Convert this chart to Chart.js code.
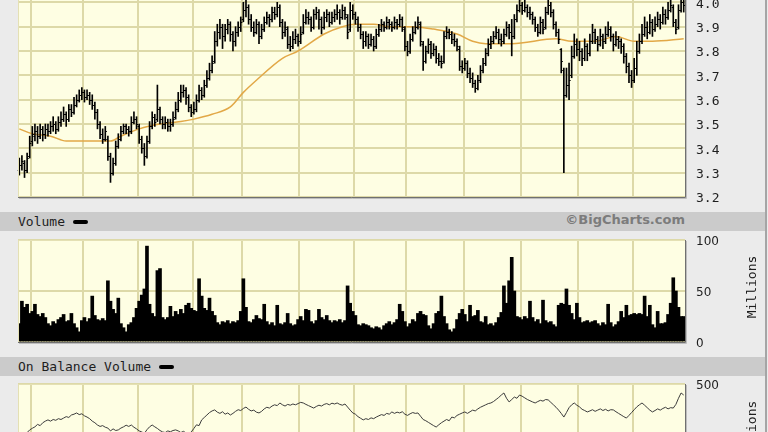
<!DOCTYPE html>
<html>
<head>
<meta charset="utf-8">
<title>Price, Volume, On Balance Volume</title>
<script src="https://cdn.jsdelivr.net/npm/chart.js@4.4.1/dist/chart.umd.min.js"></script>
<style>
  html, body { margin: 0; padding: 0; }
  body { width: 768px; height: 432px; overflow: hidden; position: relative; background: #ebebeb; }
  .pane { position: absolute; left: 0; width: 768px; }
  .band { position: absolute; left: 0; width: 766px; height: 19px; background: #cbcbcb;
          font: 13px "DejaVu Sans Mono", monospace; color: #1e1e1e; line-height: 19px; }
  .band .name { position: absolute; left: 18px; top: 0; white-space: nowrap; }
  .band .key { display: inline-block; width: 15px; height: 4px; background: #000; border-radius: 2px;
               margin-left: 8px; vertical-align: middle; position: relative; top: -1px; }
  .band .credit { position: absolute; right: 81px; top: 0; font: bold 13px "DejaVu Sans", sans-serif; color: #7c7c7c; }
  .unit { position: absolute; width: 80px; height: 16px; line-height: 16px; text-align: center;
          font: 13px "DejaVu Sans Mono", monospace; color: #1e1e1e; transform: rotate(-90deg); }
  .edge { position: absolute; left: 765px; top: 0; width: 2px; height: 432px; background: #a5a5a5; }
</style>
</head>
<body>

<div class="pane" style="top:-32px;height:239px"><canvas id="priceChart" width="768" height="239"></canvas></div>

<div class="band" style="top:212px">
  <span class="name">Volume<span class="key"></span></span>
  <span class="credit">&copy;BigCharts.com</span>
</div>
<div class="pane" style="top:230px;height:122px"><canvas id="volumeChart" width="768" height="122"></canvas></div>
<div class="unit" style="left:712px;top:279px">Millions</div>

<div class="band" style="top:357px">
  <span class="name">On Balance Volume<span class="key"></span></span>
</div>
<div class="pane" style="top:374px;height:122px"><canvas id="obvChart" width="768" height="122"></canvas></div>
<div class="unit" style="left:712px;top:424px">Millions</div>

<div class="edge"></div>

<script>
// first trading day of each month (bar index)
var month_starts = [5, 25, 46, 67, 86, 108, 129, 149, 171, 193, 215, 236];

var opens = [
  3.31,3.33,3.34,3.31,3.37,3.43,3.45,3.47,3.45,3.48, 3.46,3.48,3.47,3.49,3.50,3.48,3.51,3.52,3.54,3.52,
  3.56,3.55,3.58,3.60,3.62,3.63,3.61,3.62,3.60,3.58, 3.55,3.50,3.46,3.44,3.44,3.37,3.30,3.34,3.41,3.44,
  3.47,3.49,3.48,3.47,3.51,3.52,3.49,3.44,3.40,3.37, 3.43,3.49,3.53,3.52,3.56,3.52,3.50,3.51,3.49,3.50,
  3.53,3.56,3.60,3.63,3.64,3.61,3.57,3.55,3.56,3.60, 3.64,3.62,3.66,3.69,3.72,3.76,3.84,3.88,3.90,3.86,
  3.89,3.91,3.87,3.84,3.88,3.90,3.93,3.97,3.98,3.93, 3.90,3.88,3.91,3.86,3.89,3.92,3.94,3.93,3.96,3.95,
  3.98,3.92,3.88,3.89,3.83,3.82,3.85,3.86,3.84,3.88, 3.92,3.94,3.93,3.90,3.95,3.96,3.93,3.90,3.94,3.95,
  3.92,3.94,3.95,3.96,3.94,3.97,3.94,3.89,3.97,3.95, 3.93,3.90,3.87,3.84,3.86,3.83,3.85,3.82,3.87,3.89,
  3.91,3.90,3.92,3.91,3.90,3.92,3.91,3.93,3.89,3.82, 3.80,3.85,3.88,3.90,3.91,3.83,3.76,3.80,3.83,3.79,
  3.81,3.77,3.76,3.76,3.86,3.88,3.87,3.85,3.84,3.81, 3.74,3.73,3.75,3.71,3.69,3.67,3.65,3.68,3.72,3.75,
  3.79,3.83,3.84,3.86,3.88,3.85,3.84,3.87,3.90,3.88, 3.86,3.93,3.97,3.99,3.97,3.98,3.96,3.95,3.93,3.90,
  3.88,3.92,3.90,3.96,3.99,3.96,3.91,3.88,3.81,3.72, 3.62,3.66,3.70,3.78,3.83,3.81,3.80,3.77,3.82,3.79,
  3.84,3.88,3.85,3.83,3.86,3.84,3.87,3.89,3.86,3.83, 3.85,3.84,3.82,3.78,3.74,3.70,3.68,3.73,3.80,3.84,
  3.87,3.90,3.88,3.92,3.89,3.91,3.93,3.92,3.95,3.94, 3.97,3.98,3.92,3.90,3.97,4.00
];
var highs = [
  3.36,3.37,3.35,3.38,3.45,3.49,3.50,3.49,3.50,3.49, 3.50,3.50,3.51,3.53,3.51,3.53,3.55,3.57,3.55,3.58,
  3.58,3.61,3.62,3.64,3.65,3.64,3.64,3.63,3.62,3.59, 3.56,3.51,3.48,3.49,3.45,3.38,3.36,3.43,3.46,3.49,
  3.50,3.50,3.49,3.53,3.55,3.53,3.50,3.45,3.42,3.45, 3.51,3.55,3.54,3.66,3.57,3.53,3.53,3.52,3.52,3.55,
  3.59,3.63,3.66,3.66,3.65,3.62,3.58,3.59,3.62,3.66, 3.65,3.68,3.72,3.75,3.78,3.88,3.91,3.93,3.91,3.91,
  3.93,3.92,3.88,3.90,3.92,3.94,4.00,4.02,3.99,3.95, 3.92,3.93,3.92,3.91,3.94,3.96,3.95,3.98,3.98,4.00,
  3.99,3.93,3.92,3.90,3.86,3.88,3.89,3.87,3.90,3.95, 3.97,3.96,3.94,3.97,3.98,3.97,3.94,3.96,3.97,3.96,
  3.96,3.97,3.99,3.97,3.99,3.98,3.95,4.00,3.99,3.96, 3.94,3.91,3.88,3.88,3.87,3.87,3.86,3.89,3.91,3.93,
  3.92,3.94,3.93,3.92,3.94,3.93,3.95,3.94,3.90,3.84, 3.87,3.90,3.92,3.94,3.92,3.84,3.82,3.85,3.84,3.83,
  3.82,3.79,3.78,3.88,3.90,3.89,3.88,3.87,3.85,3.82, 3.76,3.77,3.76,3.73,3.71,3.68,3.70,3.74,3.77,3.81,
  3.85,3.86,3.88,3.90,3.89,3.87,3.89,3.92,3.91,3.93, 3.95,3.99,4.01,4.00,4.01,3.99,3.98,3.96,3.94,3.91,
  3.94,3.93,3.98,4.01,4.00,3.97,3.92,3.89,3.81,3.73, 3.73,3.75,3.82,3.87,3.85,3.84,3.81,3.85,3.83,3.87,
  3.91,3.89,3.86,3.89,3.87,3.90,3.92,3.90,3.87,3.88, 3.86,3.85,3.83,3.79,3.75,3.72,3.77,3.84,3.87,3.91,
  3.94,3.92,3.95,3.93,3.94,3.96,3.95,3.98,3.97,4.00, 4.02,3.99,3.93,3.99,4.03,4.02
];
var lows = [
  3.29,3.31,3.28,3.30,3.36,3.41,3.43,3.42,3.44,3.43, 3.44,3.45,3.46,3.47,3.46,3.47,3.49,3.51,3.49,3.51,
  3.53,3.54,3.57,3.59,3.60,3.59,3.60,3.58,3.56,3.52, 3.48,3.44,3.42,3.43,3.35,3.26,3.29,3.33,3.40,3.43,
  3.46,3.46,3.45,3.46,3.50,3.48,3.42,3.38,3.33,3.36, 3.42,3.48,3.49,3.51,3.50,3.48,3.48,3.47,3.47,3.49,
  3.52,3.55,3.59,3.61,3.58,3.55,3.53,3.54,3.55,3.59, 3.60,3.61,3.65,3.68,3.71,3.75,3.82,3.85,3.81,3.84,
  3.87,3.84,3.80,3.82,3.86,3.88,3.92,3.94,3.91,3.88, 3.86,3.87,3.83,3.85,3.88,3.91,3.90,3.92,3.93,3.94,
  3.90,3.85,3.86,3.81,3.80,3.81,3.83,3.82,3.83,3.87, 3.91,3.91,3.88,3.89,3.93,3.89,3.87,3.89,3.92,3.90,
  3.91,3.92,3.93,3.91,3.93,3.93,3.85,3.88,3.93,3.91, 3.88,3.85,3.81,3.82,3.81,3.82,3.80,3.81,3.86,3.88,
  3.88,3.89,3.89,3.88,3.89,3.89,3.90,3.88,3.80,3.78, 3.79,3.84,3.87,3.89,3.82,3.72,3.75,3.79,3.77,3.78,
  3.75,3.74,3.73,3.75,3.85,3.85,3.83,3.82,3.80,3.72, 3.71,3.72,3.69,3.67,3.65,3.63,3.64,3.67,3.71,3.74,
  3.78,3.81,3.83,3.85,3.83,3.82,3.83,3.86,3.85,3.78, 3.85,3.92,3.96,3.95,3.96,3.94,3.93,3.91,3.88,3.86,
  3.87,3.87,3.89,3.95,3.94,3.89,3.86,3.83,3.71,3.30, 3.61,3.60,3.69,3.77,3.78,3.76,3.74,3.76,3.76,3.78,
  3.83,3.83,3.80,3.82,3.81,3.83,3.86,3.84,3.80,3.82, 3.81,3.79,3.75,3.71,3.67,3.65,3.67,3.70,3.79,3.83,
  3.86,3.85,3.87,3.86,3.88,3.90,3.89,3.91,3.91,3.93, 3.96,3.90,3.87,3.89,3.96,3.96
];
var closes = [
  3.33,3.35,3.31,3.36,3.42,3.46,3.47,3.45,3.48,3.46, 3.48,3.47,3.49,3.50,3.48,3.51,3.52,3.54,3.52,3.56,
  3.55,3.58,3.60,3.62,3.63,3.61,3.62,3.60,3.58,3.55, 3.50,3.46,3.44,3.47,3.37,3.30,3.34,3.41,3.44,3.47,
  3.49,3.48,3.47,3.51,3.52,3.50,3.44,3.40,3.37,3.43, 3.49,3.53,3.51,3.56,3.52,3.50,3.51,3.49,3.50,3.52,
  3.56,3.60,3.63,3.64,3.61,3.57,3.55,3.56,3.60,3.64, 3.62,3.66,3.69,3.72,3.75,3.84,3.88,3.90,3.86,3.89,
  3.91,3.87,3.84,3.88,3.90,3.92,3.97,3.98,3.93,3.90, 3.88,3.91,3.86,3.89,3.92,3.94,3.93,3.96,3.95,3.98,
  3.92,3.88,3.90,3.83,3.82,3.85,3.86,3.84,3.87,3.92, 3.94,3.93,3.90,3.95,3.96,3.93,3.90,3.94,3.95,3.92,
  3.94,3.95,3.96,3.94,3.97,3.95,3.88,3.97,3.95,3.93, 3.90,3.87,3.84,3.86,3.83,3.85,3.82,3.87,3.89,3.91,
  3.90,3.92,3.91,3.90,3.92,3.91,3.93,3.90,3.82,3.80, 3.85,3.88,3.90,3.92,3.84,3.76,3.80,3.83,3.79,3.81,
  3.77,3.76,3.75,3.86,3.88,3.87,3.85,3.84,3.82,3.74, 3.73,3.75,3.71,3.69,3.67,3.65,3.68,3.72,3.75,3.79,
  3.83,3.84,3.86,3.88,3.85,3.84,3.87,3.90,3.88,3.86, 3.93,3.97,3.99,3.97,3.98,3.96,3.95,3.93,3.90,3.88,
  3.92,3.89,3.96,3.99,3.96,3.91,3.88,3.85,3.76,3.62, 3.66,3.68,3.78,3.83,3.81,3.80,3.77,3.82,3.79,3.84,
  3.88,3.85,3.83,3.86,3.84,3.87,3.89,3.86,3.83,3.85, 3.84,3.82,3.78,3.74,3.70,3.68,3.73,3.80,3.84,3.87,
  3.90,3.88,3.92,3.89,3.91,3.93,3.92,3.95,3.94,3.97, 3.99,3.92,3.89,3.97,4.00,3.99
];

// moving average
var ma_days = [0, 5, 12, 18, 26, 31, 35, 39, 46, 54, 62, 67, 74, 81, 86, 91, 101, 107, 117, 124,
               129, 136, 142, 151, 159, 168, 174, 179, 189, 206, 212, 221, 229, 236, 243, 255];
var ma_values = [3.48, 3.46, 3.45, 3.43, 3.43, 3.43, 3.43, 3.45, 3.48, 3.50, 3.51, 3.52, 3.54, 3.57, 3.63, 3.68, 3.77, 3.80, 3.87, 3.90,
                 3.91, 3.91, 3.90, 3.90, 3.89, 3.87, 3.84, 3.83, 3.83, 3.85, 3.84, 3.84, 3.86, 3.84, 3.84, 3.85];

// volume, millions
var volumes = [
  18,40,34,37,28,30,37,27,25,28, 24,18,16,20,18,22,24,27,20,21, 28,18,14,10,21,24,20,23,45,26,
  22,21,23,21,60,40,32,28,43,18, 14,10,17,19,24,33,40,46,52,94, 37,28,25,70,72,24,22,24,35,25,
  30,27,32,28,36,38,33,31,30,62, 45,33,31,43,30,26,19,17,20,19, 21,18,20,19,21,30,62,34,20,19,
  22,26,23,22,37,20,17,19,16,36, 18,17,19,28,18,16,17,22,25,21, 32,31,20,18,21,32,24,22,26,21,
  19,21,20,22,19,21,55,38,30,26, 17,16,18,17,16,14,13,15,14,12, 16,18,20,17,19,22,37,30,20,15,
  18,22,20,28,30,27,26,16,13,18, 28,30,45,25,18,12,10,13,22,28, 32,27,20,36,25,26,31,20,19,25,
  17,18,16,19,24,29,55,38,60,83, 50,25,24,22,25,23,40,24,20,22, 18,41,21,19,20,17,15,36,38,37,
  52,36,28,22,38,24,19,20,21,19, 20,21,18,16,19,17,37,19,15,17, 20,30,24,36,26,27,28,27,28,27,
  45,25,36,17,14,30,18,18,19,27, 38,63,50,34,25,25
];

// on balance volume, millions
var obv_values = [
  240,252,246,262,275,283,290,302,296,310, 318,324,318,326,322,330,326,333,340,336,
  348,352,358,350,354,344,338,330,318,310, 299,292,296,288,284,270,280,272,275,284,
  290,298,292,299,288,280,270,265,258,276, 290,299,290,282,272,265,262,270,266,272,
  275,270,262,268,260,256,265,282,300,296, 324,336,348,360,368,373,362,356,364,352,
  358,348,356,366,374,370,380,387,376,368, 372,362,358,366,378,386,382,392,398,394,
  407,398,392,400,396,402,398,404,410,407, 400,394,388,382,390,396,392,400,404,398,
  406,402,407,400,396,402,387,372,358,352, 340,332,324,330,326,334,330,338,344,350,
  346,356,352,363,356,362,358,364,352,346, 354,360,356,358,342,326,320,312,304,296,
  289,300,310,318,326,320,338,334,346,352, 358,363,356,364,372,368,378,386,392,398,
  404,407,414,424,434,446,456,430,412,424, 436,430,446,440,432,424,418,412,407,414,
  420,416,424,422,410,398,386,372,356,338, 360,384,398,407,396,388,376,370,363,368,
  374,366,372,378,370,376,368,374,373,364, 356,348,340,333,346,360,374,388,398,407,
  396,384,372,363,370,378,372,380,386,378, 384,382,400,430,456,446
];

var price_range = [3.2, 4.1, 0.1];
var volume_range = [0, 100, 50];
var obv_range = [0, 500, 500];

(function() {
  var bar_count = closes.length,
      grid_color = '#ddd9a8',
      text_color = '#1e1e1e',
      mono_font = { family: 'DejaVu Sans Mono', size: 13 },
      sans_font = { family: 'DejaVu Sans', size: 12 };

  // yellow plot area with the shaded frame
  var plotFrame = {
    id: 'plotFrame',
    beforeDraw: function(chart) {
      var a = chart.chartArea, c = chart.ctx;
      c.save();
      c.fillStyle = '#fefee3';
      c.fillRect(a.left, a.top, a.right - a.left, a.bottom - a.top);
      c.restore();
    },
    afterDraw: function(chart) {
      var a = chart.chartArea, c = chart.ctx;
      c.save();
      c.lineWidth = 1;
      c.strokeStyle = '#e4e0b4';
      c.beginPath();
      c.moveTo(a.left + 0.5, a.bottom);
      c.lineTo(a.left + 0.5, a.top + 0.5);
      c.lineTo(a.right, a.top + 0.5);
      c.stroke();
      c.strokeStyle = '#707070';
      c.beginPath();
      c.moveTo(a.left, a.bottom + 0.5);
      c.lineTo(a.right + 0.5, a.bottom + 0.5);
      c.lineTo(a.right + 0.5, a.top);
      c.stroke();
      c.strokeStyle = '#bdbdbd';
      c.beginPath();
      c.moveTo(a.left + 1, a.bottom + 1.5);
      c.lineTo(a.right + 1.5, a.bottom + 1.5);
      c.lineTo(a.right + 1.5, a.top + 1);
      c.stroke();
      c.restore();
    }
  };

  // open and close ticks of the price bars
  var ohlcTicks = {
    id: 'ohlcTicks',
    afterDatasetsDraw: function(chart) {
      var xs = chart.scales.x, ys = chart.scales.y, c = chart.ctx;
      c.save();
      c.strokeStyle = '#000';
      c.lineWidth = 1;
      c.beginPath();
      for (var i = 0; i < bar_count; i++) {
        var x = xs.getPixelForValue(i),
            yo = Math.round(ys.getPixelForValue(opens[i])) + 0.5,
            yc = Math.round(ys.getPixelForValue(closes[i])) + 0.5;
        c.moveTo(x - 1.6, yo); c.lineTo(x, yo);
        c.moveTo(x, yc); c.lineTo(x + 1.6, yc);
      }
      c.stroke();
      c.restore();
    }
  };

  function monthAxis() {
    return {
      type: 'linear',
      offset: false,
      min: -0.5,
      max: bar_count - 0.5,
      afterFit: function(scale) { scale.height = 0; },
      afterBuildTicks: function(scale) {
        scale.ticks = month_starts.map(function(d) { return { value: d - 0.5 }; });
      },
      ticks: { display: false },
      grid: { color: grid_color, lineWidth: 2, drawTicks: false, offset: false },
      border: { display: false }
    };
  }

  function valueAxis(range, font, digits) {
    return {
      position: 'right',
      min: range[0],
      max: range[1],
      afterFit: function(scale) {
        scale.width = 83;
        scale.paddingTop = 0;
        scale.paddingBottom = 0;
      },
      ticks: {
        stepSize: range[2],
        padding: 0,
        labelOffset: 2,
        color: text_color,
        font: font,
        callback: function(v) { return Number(v).toFixed(digits); }
      },
      grid: { color: grid_color, lineWidth: 2, drawTicks: true, tickLength: 11, tickColor: 'rgba(0,0,0,0)' },
      border: { display: false }
    };
  }

  function baseOptions(yAxis) {
    return {
      responsive: false,
      animation: false,
      devicePixelRatio: 1,
      events: [],
      layout: { padding: { left: 18, right: 0, top: 10, bottom: 10 } },
      plugins: { legend: { display: false }, tooltip: { enabled: false } },
      scales: { x: monthAxis(), y: yAxis }
    };
  }

  //price
  new Chart(document.getElementById('priceChart'), {
    type: 'bar',
    data: {
      datasets: [{
        type: 'line',
        data: ma_days.map(function(d, k) { return { x: d, y: ma_values[k] }; }),
        borderColor: '#e2a847',
        borderWidth: 1.5,
        pointRadius: 0,
        cubicInterpolationMode: 'monotone',
        order: 2
      }, {
        data: closes.map(function(c, i) { return { x: i, y: [lows[i], highs[i]] }; }),
        backgroundColor: '#000',
        barThickness: 1,
        grouped: false,
        order: 1
      }]
    },
    options: baseOptions(valueAxis(price_range, mono_font, 1)),
    plugins: [plotFrame, ohlcTicks]
  });

  //volume
  new Chart(document.getElementById('volumeChart'), {
    type: 'bar',
    data: {
      datasets: [{
        data: volumes.map(function(v, i) { return { x: i, y: v }; }),
        backgroundColor: '#000',
        barThickness: 3,
        grouped: false
      }]
    },
    options: baseOptions(valueAxis(volume_range, sans_font, 0)),
    plugins: [plotFrame]
  });

  //on balance volume
  new Chart(document.getElementById('obvChart'), {
    type: 'line',
    data: {
      datasets: [{
        data: obv_values.map(function(v, i) { return { x: i, y: v }; }),
        borderColor: '#3c3c3c',
        borderWidth: 1,
        pointRadius: 0,
        tension: 0
      }]
    },
    options: baseOptions(valueAxis(obv_range, sans_font, 0)),
    plugins: [plotFrame]
  });
})();
</script>
</body>
</html>
